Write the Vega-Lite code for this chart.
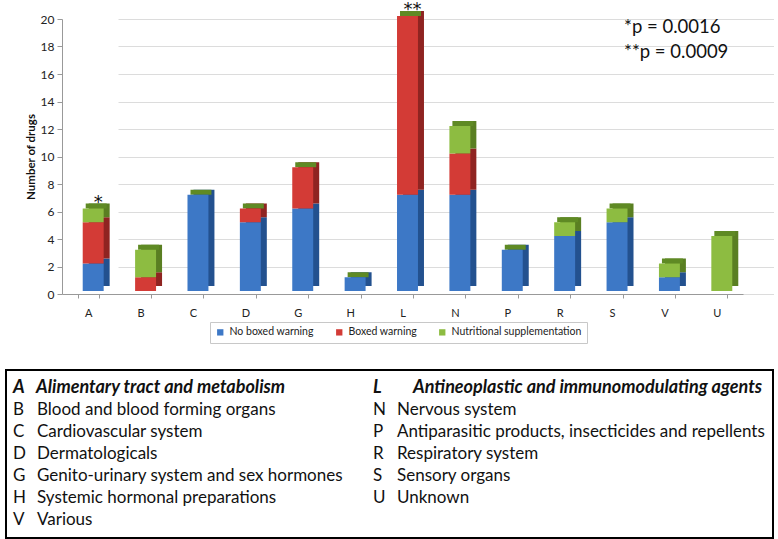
{
  "$schema": "https://vega.github.io/schema/vega-lite/v6.json",
  "padding": {"left": 5, "top": 1, "right": 0, "bottom": 0},
  "config": {
    "font": "Lato, Liberation Sans, sans-serif",
    "view": {"stroke": null},
    "axisY": {
      "values": [0, 2, 4, 6, 8, 10, 12, 14, 16, 18, 20],
      "offset": -56,
      "labelFontSize": 12,
      "labelColor": "#222",
      "labelPadding": 3,
      "tickSize": 5,
      "tickColor": "#999",
      "domainColor": "#999",
      "gridColor": "#dcdcdc",
      "titleFontSize": 11.5,
      "titleFontWeight": "bold",
      "titleColor": "#111",
      "titlePadding": 4
    },
    "axisX": {
      "labelFontSize": 11,
      "labelColor": "#222",
      "labelAngle": 0,
      "labelPadding": 9,
      "tickSize": 4,
      "tickColor": "#999",
      "domainColor": "#999",
      "tickBand": "extent",
      "title": null,
      "grid": false
    }
  },
  "datasets": {
    "drugs": [
      {"cat": "A", "type": "No boxed warning", "k": 1, "n": 2},
      {"cat": "A", "type": "Boxed warning", "k": 2, "n": 3},
      {"cat": "A", "type": "Nutritional supplementation", "k": 3, "n": 1},
      {"cat": "B", "type": "Boxed warning", "k": 2, "n": 1},
      {"cat": "B", "type": "Nutritional supplementation", "k": 3, "n": 2},
      {"cat": "C", "type": "No boxed warning", "k": 1, "n": 7},
      {"cat": "D", "type": "No boxed warning", "k": 1, "n": 5},
      {"cat": "D", "type": "Boxed warning", "k": 2, "n": 1},
      {"cat": "G", "type": "No boxed warning", "k": 1, "n": 6},
      {"cat": "G", "type": "Boxed warning", "k": 2, "n": 3},
      {"cat": "H", "type": "No boxed warning", "k": 1, "n": 1},
      {"cat": "L", "type": "No boxed warning", "k": 1, "n": 7},
      {"cat": "L", "type": "Boxed warning", "k": 2, "n": 13},
      {"cat": "N", "type": "No boxed warning", "k": 1, "n": 7},
      {"cat": "N", "type": "Boxed warning", "k": 2, "n": 3},
      {"cat": "N", "type": "Nutritional supplementation", "k": 3, "n": 2},
      {"cat": "P", "type": "No boxed warning", "k": 1, "n": 3},
      {"cat": "R", "type": "No boxed warning", "k": 1, "n": 4},
      {"cat": "R", "type": "Nutritional supplementation", "k": 3, "n": 1},
      {"cat": "S", "type": "No boxed warning", "k": 1, "n": 5},
      {"cat": "S", "type": "Nutritional supplementation", "k": 3, "n": 1},
      {"cat": "V", "type": "No boxed warning", "k": 1, "n": 1},
      {"cat": "V", "type": "Nutritional supplementation", "k": 3, "n": 1},
      {"cat": "U", "type": "Nutritional supplementation", "k": 3, "n": 4}
    ],
    "stars": [
      {"cat": "A", "n": 6, "label": "*"},
      {"cat": "L", "n": 20, "label": "**"}
    ],
    "pvals": [
      {"cat": "S", "yv": 19.4, "label": "*p = 0.0016"},
      {"cat": "S", "yv": 17.6, "label": "**p = 0.0009"}
    ],
    "atc": [
      {"col": "left", "row": 1, "code": "A", "desc": "Alimentary tract and metabolism", "emph": true},
      {"col": "left", "row": 2, "code": "B", "desc": "Blood and blood forming organs", "emph": false},
      {"col": "left", "row": 3, "code": "C", "desc": "Cardiovascular system", "emph": false},
      {"col": "left", "row": 4, "code": "D", "desc": "Dermatologicals", "emph": false},
      {"col": "left", "row": 5, "code": "G", "desc": "Genito-urinary system and sex hormones", "emph": false},
      {"col": "left", "row": 6, "code": "H", "desc": "Systemic hormonal preparations", "emph": false},
      {"col": "left", "row": 7, "code": "V", "desc": "Various", "emph": false},
      {"col": "right", "row": 1, "code": "L", "desc": "Antineoplastic and immunomodulating agents", "emph": true},
      {"col": "right", "row": 2, "code": "N", "desc": "Nervous system", "emph": false},
      {"col": "right", "row": 3, "code": "P", "desc": "Antiparasitic products, insecticides and repellents", "emph": false},
      {"col": "right", "row": 4, "code": "R", "desc": "Respiratory system", "emph": false},
      {"col": "right", "row": 5, "code": "S", "desc": "Sensory organs", "emph": false},
      {"col": "right", "row": 6, "code": "U", "desc": "Unknown", "emph": false}
    ]
  },
  "columns": 1,
  "spacing": 51,
  "concat": [
    {
      "width": 737,
      "height": 275,
      "view": {"stroke": null},
      "encoding": {
        "x": {
          "field": "cat",
          "type": "nominal",
          "sort": ["A", "B", "C", "D", "G", "H", "L", "N", "P", "R", "S", "V", "U"],
          "scale": {"range": [56, 737], "paddingInner": 0.6, "paddingOuter": 0.3},
          "title": null
        }
      },
      "layer": [
        {
          "data": {"name": "drugs"},
          "mark": {"type": "bar", "xOffset": 11, "yOffset": -8, "y2Offset": -8},
          "encoding": {
            "y": {"field": "n", "type": "quantitative", "stack": "zero", "scale": {"domain": [0, 20], "nice": false}, "title": "Number of drugs"},
            "order": {"field": "k", "type": "quantitative"},
            "color": {
              "condition": [
                {"test": "datum.k == 1", "value": "#23518f"},
                {"test": "datum.k == 2", "value": "#8f2421"}
              ],
              "value": "#5a7f22"
            }
          }
        },
        {
          "data": {"name": "drugs"},
          "transform": [{"aggregate": [{"op": "sum", "field": "n", "as": "total"}], "groupby": ["cat"]}],
          "mark": {"type": "bar", "color": "#5f8a24", "xOffset": 8, "yOffset": -8, "y2Offset": -3},
          "encoding": {
            "y": {"field": "total", "type": "quantitative", "title": "Number of drugs"},
            "y2": {"field": "total"}
          }
        },
        {
          "data": {"name": "drugs"},
          "mark": {"type": "bar", "xOffset": 5, "yOffset": -3, "y2Offset": -3},
          "encoding": {
            "y": {"field": "n", "type": "quantitative", "stack": "zero", "title": "Number of drugs"},
            "order": {"field": "k", "type": "quantitative"},
            "color": {
              "field": "type",
              "type": "nominal",
              "scale": {"domain": ["No boxed warning", "Boxed warning", "Nutritional supplementation"], "range": ["#3d78c6", "#d33b36", "#8dbc41"]},
              "legend": {
                "orient": "none",
                "legendX": 204,
                "legendY": 303,
                "direction": "horizontal",
                "title": null,
                "symbolType": "square",
                "symbolSize": 40,
                "symbolStrokeWidth": 0,
                "labelFontSize": 10.5,
                "labelColor": "#222",
                "labelLimit": 300,
                "columnPadding": 20,
                "padding": 5,
                "strokeColor": "#c8c8c8",
                "fillColor": "#ffffff"
              }
            }
          }
        },
        {
          "data": {"name": "stars"},
          "mark": {"type": "text", "fontSize": 18, "baseline": "alphabetic", "dx": 10, "dy": -4, "color": "#111", "font": "DejaVu Sans"},
          "encoding": {
            "y": {"field": "n", "type": "quantitative", "title": "Number of drugs"},
            "text": {"field": "label"}
          }
        },
        {
          "data": {"name": "pvals"},
          "mark": {"type": "text", "fontSize": 18.5, "align": "left", "baseline": "middle", "dx": 12, "color": "#111"},
          "encoding": {
            "y": {"field": "yv", "type": "quantitative", "title": "Number of drugs"},
            "text": {"field": "label"}
          }
        }
      ]
    },
    {
      "width": 767,
      "height": 168,
      "view": {"stroke": "#000000", "strokeWidth": 2},
      "data": {"name": "atc"},
      "encoding": {
        "x": {"field": "col", "type": "nominal", "scale": {"type": "point", "padding": 0, "domain": ["left", "right"], "range": [7, 367]}, "axis": null},
        "y": {"field": "row", "type": "ordinal", "scale": {"type": "point", "padding": 0.8}, "axis": null}
      },
      "layer": [
        {
          "transform": [{"filter": "!datum.emph"}],
          "mark": {"type": "text", "align": "left", "baseline": "middle", "fontSize": 17, "color": "#111"},
          "encoding": {"text": {"field": "code"}}
        },
        {
          "transform": [{"filter": "!datum.emph"}],
          "mark": {"type": "text", "align": "left", "baseline": "middle", "fontSize": 17, "dx": 24, "color": "#111"},
          "encoding": {"text": {"field": "desc"}}
        },
        {
          "transform": [{"filter": "datum.emph"}],
          "mark": {"type": "text", "align": "left", "baseline": "middle", "fontSize": 18, "fontWeight": "bold", "fontStyle": "italic", "color": "#111"},
          "encoding": {"text": {"field": "code"}}
        },
        {
          "transform": [{"filter": "datum.code == 'A'"}],
          "mark": {"type": "text", "align": "left", "baseline": "middle", "fontSize": 18, "fontWeight": "bold", "fontStyle": "italic", "dx": 23, "color": "#111"},
          "encoding": {"text": {"field": "desc"}}
        },
        {
          "transform": [{"filter": "datum.code == 'L'"}],
          "mark": {"type": "text", "align": "left", "baseline": "middle", "fontSize": 18, "fontWeight": "bold", "fontStyle": "italic", "dx": 40, "color": "#111"},
          "encoding": {"text": {"field": "desc"}}
        }
      ]
    }
  ]
}
